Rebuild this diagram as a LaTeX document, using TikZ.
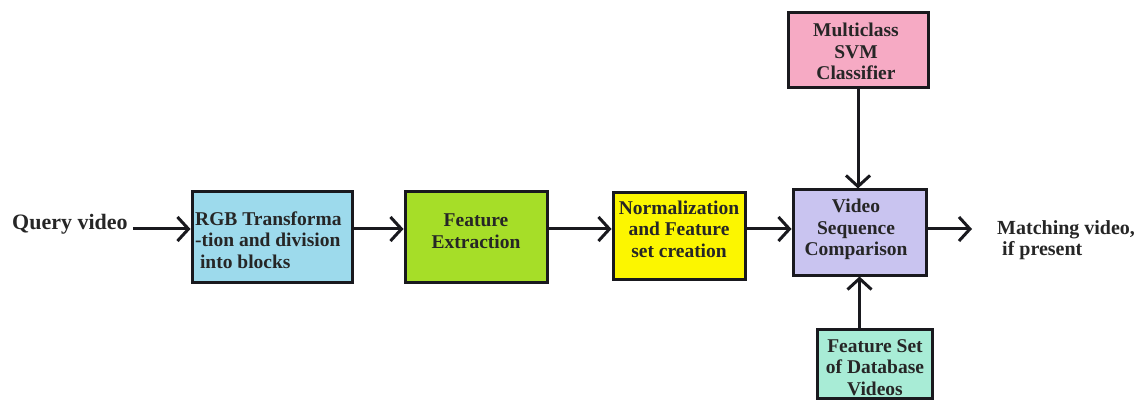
\documentclass[tikz,border=0pt]{standalone}
\usepackage{fontspec}
\setmainfont{Liberation Serif}
\usetikzlibrary{arrows.meta}
\definecolor{cblue}{RGB}{157,218,236}
\definecolor{cgreen}{RGB}{166,222,40}
\definecolor{cyellow}{RGB}{252,246,0}
\definecolor{clav}{RGB}{201,196,240}
\definecolor{cpink}{RGB}{246,170,196}
\definecolor{cmint}{RGB}{168,236,214}
\definecolor{cedge}{RGB}{25,25,30}
\tikzset{
  blockbox/.style={draw=cedge, line width=3pt, inner sep=0pt},
  blocktext/.style={font=\fontsize{19.5}{21.5}\selectfont\bfseries, align=center, inner sep=0pt, text=black!85},
  plain/.style={font=\fontsize{20}{21}\selectfont\bfseries, inner sep=0pt, text=black!85},
  flow/.style={draw=cedge, line width=3pt, -{Straight Barb[length=11pt,width=24pt,line width=3pt]}}
}
\begin{document}
\begin{tikzpicture}[x=1pt, y=-1pt]
\useasboundingbox (0,0) rectangle (1137,403);
\coordinate (row) at (0,229);

% processing blocks
\node[blockbox, fill=cblue, minimum width=160pt, minimum height=90pt] (rgb) at (272,237) {};
\node[blockbox, fill=cgreen, minimum width=142pt, minimum height=90pt] (fe) at (476,237) {};
\node[blockbox, fill=cyellow, minimum width=132pt, minimum height=86pt] (norm) at (679,236) {};
\node[blockbox, fill=clav, minimum width=133pt, minimum height=85pt] (vsc) at (859.5,232.5) {};
\node[blockbox, fill=cpink, minimum width=140pt, minimum height=75pt] (svm) at (858,50.5) {};
\node[blockbox, fill=cmint, minimum width=115pt, minimum height=69pt] (fs) at (874.5,363.5) {};

% block captions
\node[blocktext, align=left, anchor=west] (rgb-t) at (195,240) {RGB Transforma\\-tion and division\\\ into blocks};
\node[blocktext] (fe-t) at (476,231) {Feature\\Extraction};
\node[blocktext] (norm-t) at (679,229) {Normalization\\and Feature\\set creation};
\node[blocktext] (vsc-t) at (856,229.5) {Video\\Sequence\\Comparison};
\node[blocktext] (svm-t) at (856,51.5) {Multiclass\\SVM\\Classifier};
\node[blocktext] (fs-t) at (875,367.5) {Feature Set\\of Database\\Videos};

% input and output labels
\node[plain, font=\fontsize{22}{22}\selectfont\bfseries, anchor=base west] (query) at (12,230) {Query video};
\node[plain, anchor=west, align=left] (match) at (997,240) {Matching video,\\\ if present};
\coordinate (out) at (972,229);

% connectors
\draw[flow] (query.east |- row) ++(5,0) coordinate (qs) -- (rgb.west |- row);
\draw[flow] (rgb.east |- row) -- (fe.west |- row);
\draw[flow] (fe.east |- row) -- (norm.west |- row);
\draw[flow] (norm.east |- row) -- (vsc.west |- row);
\draw[flow] (vsc.east |- row) -- (out);
\draw[flow] (svm.south) -- (svm.south |- vsc.north);
\draw[flow] (fs.north -| vsc.south) -- (vsc.south);
\end{tikzpicture}
\end{document}
